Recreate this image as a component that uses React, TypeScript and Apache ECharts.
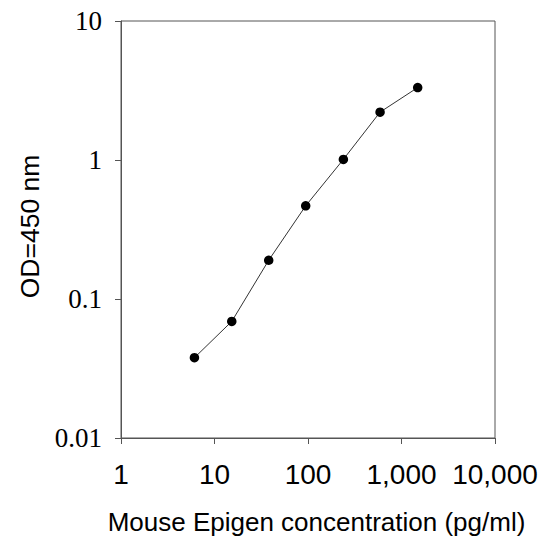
import React, { useEffect, useRef } from "react";
import * as echarts from "echarts";

const concentrations: number[] = [6.1, 15.3, 38, 94.5, 239, 590, 1490];
const odValues: number[] = [0.0378, 0.069, 0.19, 0.468, 1.01, 2.21, 3.32];
const xTitle = "Mouse Epigen concentration (pg/ml)";
const yTitle = "OD=450 nm";

const fmtX = (v: number) => Math.round(v).toLocaleString("en-US");
const fmtY = (v: number) => String(+v.toPrecision(6));

export default function App() {
  const ref = useRef<HTMLDivElement>(null);
  useEffect(() => {
    document.body.style.margin = "0";
    if (!ref.current) return;
    const chart = echarts.init(ref.current, undefined, { renderer: "svg" });
    const axisColor = "#555555";
    chart.setOption({
      animation: false,
      backgroundColor: "#ffffff",
      grid: {
        left: 121,
        top: 21,
        right: 52,
        bottom: 108,
        show: true,
        borderColor: axisColor,
        borderWidth: 1,
        backgroundColor: "transparent",
      },
      xAxis: {
        type: "log",
        logBase: 10,
        min: 1,
        max: 10000,
        name: xTitle,
        nameLocation: "middle",
        nameGap: 71,
        nameTextStyle: {
          fontFamily: "Liberation Sans",
          fontSize: 26,
          color: "#000",
          padding: [0, 0, 0, 17],
        },
        axisLine: { show: true, lineStyle: { color: axisColor, width: 1 } },
        axisTick: { show: true, inside: false, length: 6, lineStyle: { color: axisColor } },
        minorTick: { show: false },
        splitLine: { show: false },
        axisLabel: {
          formatter: fmtX,
          fontFamily: "Liberation Sans",
          fontSize: 28,
          color: "#000",
          margin: 22,
        },
      },
      yAxis: {
        type: "log",
        logBase: 10,
        min: 0.01,
        max: 10,
        name: yTitle,
        nameLocation: "middle",
        nameGap: 76,
        nameRotate: 90,
        nameTextStyle: {
          fontFamily: "Liberation Sans",
          fontSize: 26.5,
          color: "#000",
          padding: [0, 0, 0, 6],
        },
        axisLine: { show: true, lineStyle: { color: axisColor, width: 1 } },
        axisTick: { show: true, inside: false, length: 6, lineStyle: { color: axisColor } },
        minorTick: { show: false },
        splitLine: { show: false },
        axisLabel: {
          formatter: fmtY,
          fontFamily: "Liberation Serif",
          fontSize: 27,
          color: "#000",
          margin: 19,
        },
      },
      series: [
        {
          type: "line",
          data: concentrations.map((c, i) => [c, odValues[i]]),
          symbol: "circle",
          symbolSize: 9.5,
          itemStyle: { color: "#000" },
          lineStyle: { color: "#333", width: 1 },
        },
      ],
    });
    return () => chart.dispose();
  }, []);
  return <div ref={ref} style={{ width: 547, height: 546 }} />;
}
